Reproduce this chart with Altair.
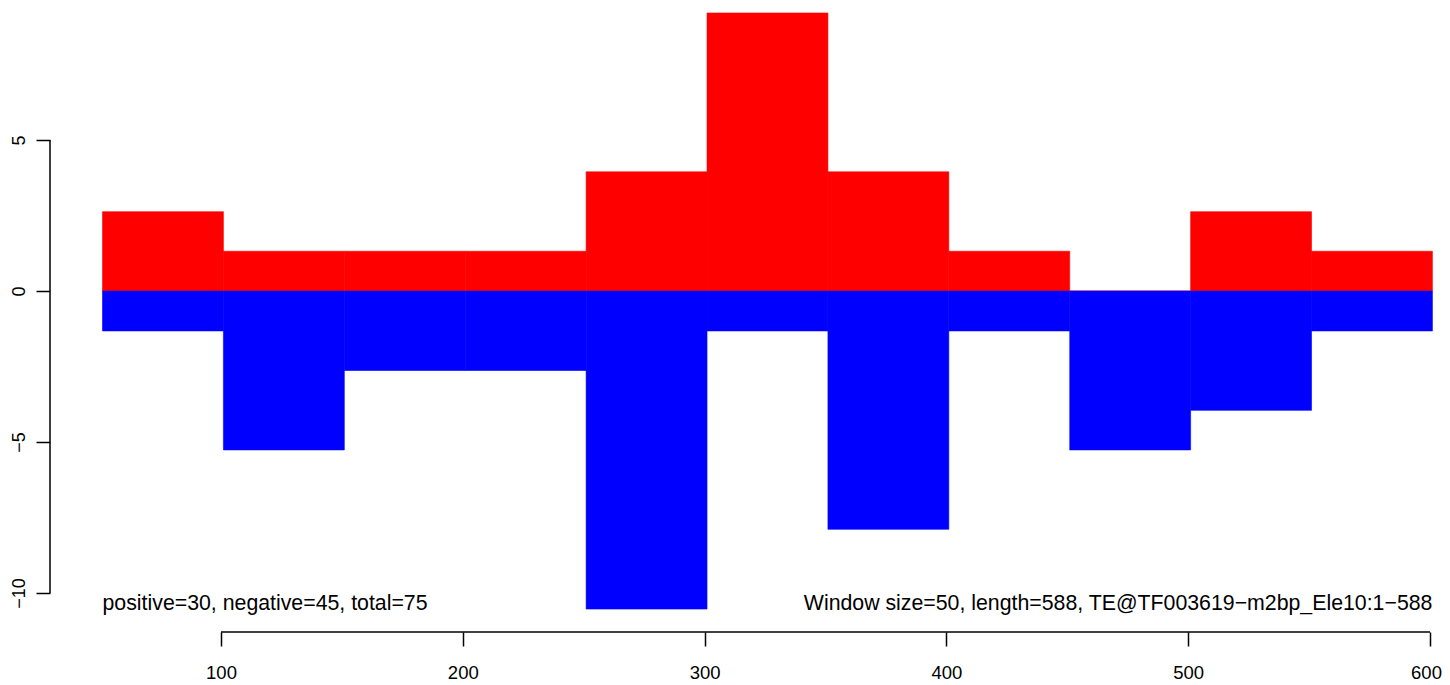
import altair as alt
import pandas as pd

# window bins
bin_start = [51, 101, 151, 201, 251, 301, 351, 401, 451, 501, 551]
bin_end = [101, 151, 201, 251, 301, 351, 401, 451, 501, 551, 601]
positive = [2.63, 1.32, 1.32, 1.32, 3.95, 9.21, 3.95, 1.32, 0.0, 2.63, 1.32]
negative = [-1.32, -5.26, -2.63, -2.63, -10.53, -1.32, -7.89, -1.32, -5.26, -3.95, -1.32]

x_ticks = [100, 200, 300, 400, 500, 600]
y_ticks = [-10, -5, 0, 5]
x_domain = [29.28, 604.96]
y_domain = [-11.29, 9.64]

left_note = "positive=30, negative=45, total=75"
right_note = "Window size=50, length=588, TE@TF003619\u2212m2bp_Ele10:1\u2212588"
note_y = -10.36

FONT = "Liberation Sans"

rows = []
for s, e, p, n in zip(bin_start, bin_end, positive, negative):
    rows.append({"start": s, "end": e, "val": p, "sign": "pos"})
    rows.append({"start": s, "end": e, "val": n, "sign": "neg"})
df = pd.DataFrame(rows)

xs = alt.Scale(domain=x_domain, nice=False, zero=False)
ys = alt.Scale(domain=y_domain, nice=False, zero=False)
cs = alt.Scale(domain=["pos", "neg"], range=["#FF0000", "#0000FF"])

PLOT_H = 632

bars = alt.Chart(df).mark_rect(strokeWidth=0.6).encode(
    x=alt.X("start:Q", scale=xs, axis=alt.Axis(values=x_ticks, domain=False, grid=False,
                                                tickSize=14, tickColor="black", tickWidth=1.5,
                                                labelFontSize=18.5, labelFont=FONT, labelColor="black",
                                                labelPadding=17, title=None, labelFlush=False,
                                                labelOverlap=False,
                                                labelOffset={"condition": {"test": "datum.value == 600", "value": -4}, "value": 0})),
    x2="end:Q",
    y=alt.Y("val:Q", scale=ys, axis=alt.Axis(values=y_ticks, domain=False, grid=False,
                                              tickSize=14, tickColor="black", tickWidth=1.5,
                                              labelFontSize=18, labelFont=FONT, labelColor="black",
                                              labelAngle=270, labelAlign="center",
                                              labelBaseline="alphabetic", labelPadding=12,
                                              title=None, labelFlush=False, labelOverlap=False)),
    y2=alt.datum(0),
    color=alt.Color("sign:N", scale=cs, legend=None),
    stroke=alt.Stroke("sign:N", scale=cs, legend=None),
)

yline = alt.Chart(pd.DataFrame({"lo": [min(y_ticks)], "hi": [max(y_ticks)]})).mark_rule(
    color="black", strokeWidth=1.5).encode(
    x=alt.value(0), y=alt.Y("lo:Q", scale=ys), y2="hi:Q")

xline = alt.Chart(pd.DataFrame({"lo": [min(x_ticks)], "hi": [max(x_ticks)]})).mark_rule(
    color="black", strokeWidth=1.5).encode(
    y=alt.value(PLOT_H), x=alt.X("lo:Q", scale=xs), x2="hi:Q")

left_txt = alt.Chart(pd.DataFrame({"x": [bin_start[0]], "y": [note_y], "t": [left_note]})).mark_text(
    align="left", baseline="middle", fontSize=21.3, font=FONT, color="black").encode(
    x=alt.X("x:Q", scale=xs), y=alt.Y("y:Q", scale=ys), text="t:N")

right_txt = alt.Chart(pd.DataFrame({"x": [bin_end[-1]], "y": [note_y], "t": [right_note]})).mark_text(
    align="right", baseline="middle", fontSize=21.3, font=FONT, color="black").encode(
    x=alt.X("x:Q", scale=xs), y=alt.Y("y:Q", scale=ys), text="t:N")

chart = alt.layer(bars, yline, xline, left_txt, right_txt).properties(
    width=1392, height=PLOT_H,
    autosize=alt.AutoSizeParams(type="none"),
    padding={"left": 42, "top": -8, "right": 0, "bottom": 53},
    background="white",
).configure_view(stroke=None)

chart.save("out.html", embed_options={"renderer": "svg", "actions": False})
